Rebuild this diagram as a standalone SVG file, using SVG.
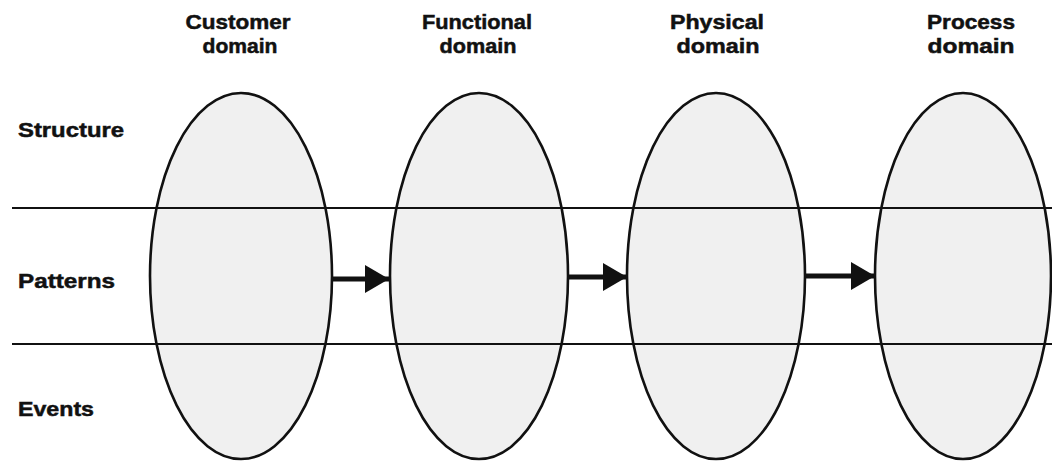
<svg xmlns="http://www.w3.org/2000/svg" width="1052" height="461" viewBox="0 0 1052 461">
  <style>
    .t { font-family: "Liberation Sans", Arial, sans-serif; font-weight: bold; font-size: 20.5px; fill: #111; stroke: #111; stroke-width: 0.5; }
    .h { text-anchor: middle; }
    .dom { fill: #f0f0f0; stroke: #111; stroke-width: 2.6; }
    .band { stroke: #111; stroke-width: 2; }
    .conn { stroke: #111; stroke-width: 5; fill: none; }
  </style>
  <defs>
    <marker id="ah" markerUnits="userSpaceOnUse" markerWidth="26" markerHeight="30" refX="24" refY="14" orient="auto">
      <path d="M0,0 L24,14 L0,28 Z" fill="#111"/>
    </marker>
  </defs>
  <rect width="1052" height="461" fill="#fff"/>

  <g id="row-labels">
    <text class="t" x="18" y="137" textLength="106" lengthAdjust="spacingAndGlyphs">Structure</text>
    <text class="t" x="18" y="288" textLength="97" lengthAdjust="spacingAndGlyphs">Patterns</text>
    <text class="t" x="18" y="416" textLength="76" lengthAdjust="spacingAndGlyphs">Events</text>
  </g>

  <g id="customer-domain">
    <ellipse class="dom" cx="241" cy="276" rx="91" ry="183"/>
    <text class="t h" x="238" y="29" textLength="105" lengthAdjust="spacingAndGlyphs">Customer</text>
    <text class="t h" x="240" y="53" textLength="75" lengthAdjust="spacingAndGlyphs">domain</text>
  </g>
  <g id="functional-domain">
    <ellipse class="dom" cx="479" cy="276" rx="89" ry="183"/>
    <text class="t h" x="477" y="29" textLength="110" lengthAdjust="spacingAndGlyphs">Functional</text>
    <text class="t h" x="478" y="53" textLength="77" lengthAdjust="spacingAndGlyphs">domain</text>
  </g>
  <g id="physical-domain">
    <ellipse class="dom" cx="716" cy="276" rx="89" ry="183"/>
    <text class="t h" x="717" y="29" textLength="94" lengthAdjust="spacingAndGlyphs">Physical</text>
    <text class="t h" x="718" y="53" textLength="83" lengthAdjust="spacingAndGlyphs">domain</text>
  </g>
  <g id="process-domain">
    <ellipse class="dom" cx="963" cy="276" rx="88" ry="183"/>
    <text class="t h" x="971" y="29" textLength="88" lengthAdjust="spacingAndGlyphs">Process</text>
    <text class="t h" x="971" y="53" textLength="87" lengthAdjust="spacingAndGlyphs">domain</text>
  </g>

  <g id="bands">
    <line class="band" x1="12" y1="208" x2="1052" y2="208"/>
    <line class="band" x1="12" y1="344" x2="1052" y2="344"/>
  </g>

  <g id="connectors">
    <line class="conn" x1="332" y1="279" x2="389" y2="279" marker-end="url(#ah)"/>
    <line class="conn" x1="569" y1="277" x2="627" y2="277" marker-end="url(#ah)"/>
    <line class="conn" x1="806" y1="276" x2="875" y2="276" marker-end="url(#ah)"/>
  </g>
</svg>
